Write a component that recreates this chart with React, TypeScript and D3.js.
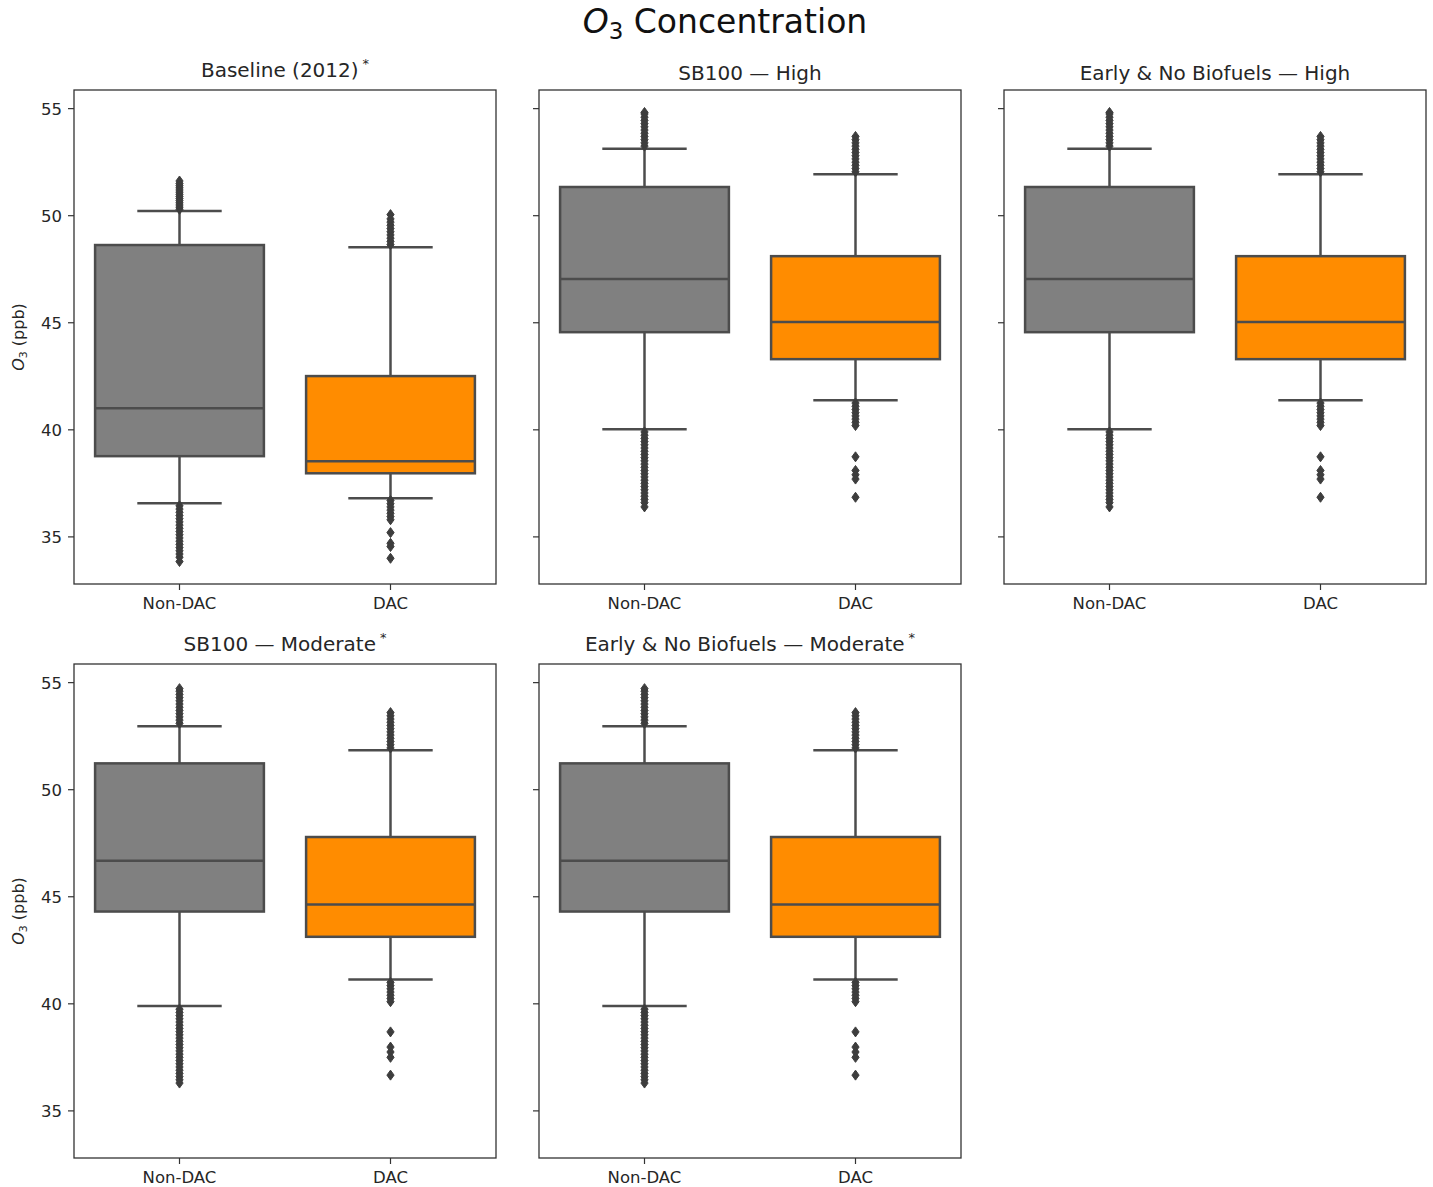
import React from "react";
import * as d3 from "d3";

// ---------- DATA ----------
const groups = ["Non-DAC", "DAC"];
const yTicks = [35, 40, 45, 50, 55];
const yDomain = [32.8, 55.87];

const panelTitles = [
  "Baseline (2012)",
  "SB100 — High",
  "Early & No Biofuels — High",
  "SB100 — Moderate",
  "Early & No Biofuels — Moderate",
];
const panelStars = [true, false, false, true, true];

// stats: [lowWhisker, q1, median, q3, highWhisker]
const baselineNonDacStats = [36.57, 38.77, 41.01, 48.63, 50.22];
const baselineNonDacOut = [
  50.3, 50.4, 50.5, 50.6, 50.7, 50.8, 50.9, 51.0, 51.1, 51.2, 51.3, 51.4, 51.5, 51.62,
  36.45, 36.3, 36.15, 36.0, 35.85, 35.7, 35.55, 35.4, 35.25, 35.1, 34.95, 34.8, 34.65,
  34.5, 34.35, 34.2, 34.05, 33.85,
];
const baselineDacStats = [36.8, 37.97, 38.53, 42.51, 48.53];
const baselineDacOut = [
  48.65, 48.8, 48.95, 49.1, 49.25, 49.4, 49.55, 49.7, 49.85, 50.05,
  36.7, 36.55, 36.4, 36.25, 36.1, 35.95, 35.8, 35.2, 34.7, 34.55, 34.0,
];

const highNonDacStats = [40.03, 44.56, 47.04, 51.34, 53.13];
const highNonDacOut = [
  53.25, 53.4, 53.55, 53.7, 53.85, 54.0, 54.15, 54.3, 54.45, 54.6, 54.75, 54.82,
  39.9, 39.75, 39.6, 39.45, 39.3, 39.15, 39.0, 38.85, 38.7, 38.55, 38.4, 38.25, 38.1,
  37.95, 37.8, 37.65, 37.5, 37.35, 37.2, 37.05, 36.9, 36.75, 36.6, 36.4,
];
const highDacStats = [41.38, 43.3, 45.03, 48.11, 51.94];
const highDacOut = [
  52.05, 52.2, 52.35, 52.5, 52.65, 52.8, 52.95, 53.1, 53.25, 53.4, 53.55, 53.7,
  41.25, 41.1, 40.95, 40.8, 40.65, 40.5, 40.35, 40.2, 38.74, 38.1, 37.9, 37.7, 36.85,
];

const modNonDacStats = [39.9, 44.31, 46.68, 51.23, 52.96];
const modNonDacOut = [
  53.1, 53.25, 53.4, 53.55, 53.7, 53.85, 54.0, 54.15, 54.3, 54.45, 54.6, 54.72,
  39.75, 39.6, 39.45, 39.3, 39.15, 39.0, 38.85, 38.7, 38.55, 38.4, 38.25, 38.1, 37.95,
  37.8, 37.65, 37.5, 37.35, 37.2, 37.05, 36.9, 36.75, 36.6, 36.45, 36.3,
];
const modDacStats = [41.14, 43.13, 44.64, 47.79, 51.84];
const modDacOut = [
  51.95, 52.1, 52.25, 52.4, 52.55, 52.7, 52.85, 53.0, 53.15, 53.3, 53.45, 53.6,
  41.0, 40.85, 40.7, 40.55, 40.4, 40.25, 40.1, 38.69, 37.98, 37.75, 37.5, 36.67,
];

const panelStats = [
  [baselineNonDacStats, baselineDacStats],
  [highNonDacStats, highDacStats],
  [highNonDacStats, highDacStats],
  [modNonDacStats, modDacStats],
  [modNonDacStats, modDacStats],
];
const panelOutliers = [
  [baselineNonDacOut, baselineDacOut],
  [highNonDacOut, highDacOut],
  [highNonDacOut, highDacOut],
  [modNonDacOut, modDacOut],
  [modNonDacOut, modDacOut],
];

const groupColors = ["#808080", "#ff8c00"];

// ---------- LAYOUT ----------
const W = 1433;
const H = 1187;
const colX = [74, 539, 1004];
const rowY = [90, 664];
const PW = 422;
const PH = 494;
const LINE = "#4c4c4c";
const FLIER = "#3d3d3d";
const FONT = "'DejaVu Sans', sans-serif";
const TEXT = "#262626";

function Panel({ idx }: { idx: number }) {
  const col = idx % 3;
  const row = Math.floor(idx / 3);
  const x0 = colX[col];
  const y0 = rowY[row];
  const y = d3.scaleLinear().domain(yDomain).range([y0 + PH, y0]);
  const x = d3.scaleBand().domain(groups).range([x0, x0 + PW]).padding(0);
  const bw = x.bandwidth() * 0.8;
  const capW = bw / 2;
  const stats = panelStats[idx];
  const outs = panelOutliers[idx];
  const showYLabels = col === 0;
  const star = panelStars[idx];
  const titleY = star ? y0 - 13 : y0 - 10;
  const diamond = (cx: number, cy: number) =>
    `M${cx},${cy - 5}L${cx + 3.6},${cy}L${cx},${cy + 5}L${cx - 3.6},${cy}Z`;

  return (
    <g>
      {/* title */}
      <text
        x={x0 + PW / 2}
        y={titleY}
        textAnchor="middle"
        fontFamily={FONT}
        fontSize={20}
        fill={TEXT}
      >
        {panelTitles[idx]}
        {star ? (
          <tspan dx={4} dy={-9} fontSize={13}>
            *
          </tspan>
        ) : null}
      </text>

      {/* boxes */}
      {groups.map((g, i) => {
        const [lo, q1, med, q3, hi] = stats[i];
        const cx = (x(g) as number) + x.bandwidth() / 2;
        return (
          <g key={g}>
            <line x1={cx} x2={cx} y1={y(q3)} y2={y(hi)} stroke={LINE} strokeWidth={2.5} />
            <line x1={cx} x2={cx} y1={y(q1)} y2={y(lo)} stroke={LINE} strokeWidth={2.5} />
            <line x1={cx - capW / 2} x2={cx + capW / 2} y1={y(hi)} y2={y(hi)} stroke={LINE} strokeWidth={2.5} />
            <line x1={cx - capW / 2} x2={cx + capW / 2} y1={y(lo)} y2={y(lo)} stroke={LINE} strokeWidth={2.5} />
            <rect
              x={cx - bw / 2}
              y={y(q3)}
              width={bw}
              height={y(q1) - y(q3)}
              fill={groupColors[i]}
              stroke={LINE}
              strokeWidth={2.5}
            />
            <line x1={cx - bw / 2} x2={cx + bw / 2} y1={y(med)} y2={y(med)} stroke={LINE} strokeWidth={2.5} />
            {outs[i].map((v, k) => (
              <path key={k} d={diamond(cx, y(v))} fill={FLIER} stroke={FLIER} strokeWidth={1} />
            ))}
          </g>
        );
      })}

      {/* frame */}
      <rect x={x0} y={y0} width={PW} height={PH} fill="none" stroke="#333" strokeWidth={1.3} />

      {/* y ticks */}
      {yTicks.map((t) => (
        <g key={t}>
          <line x1={x0 - 6} x2={x0} y1={y(t)} y2={y(t)} stroke="#333" strokeWidth={1.2} />
          {showYLabels ? (
            <text
              x={x0 - 12}
              y={y(t) + 6}
              textAnchor="end"
              fontFamily={FONT}
              fontSize={16.5}
              fill={TEXT}
            >
              {t}
            </text>
          ) : null}
        </g>
      ))}

      {/* x ticks */}
      {groups.map((g) => {
        const cx = (x(g) as number) + x.bandwidth() / 2;
        return (
          <g key={g}>
            <line x1={cx} x2={cx} y1={y0 + PH} y2={y0 + PH + 6} stroke="#333" strokeWidth={1.2} />
            <text
              x={cx}
              y={y0 + PH + 25}
              textAnchor="middle"
              fontFamily={FONT}
              fontSize={16.5}
              fill={TEXT}
            >
              {g}
            </text>
          </g>
        );
      })}

      {/* y label */}
      {showYLabels ? (
        <text
          transform={`translate(24,${y0 + PH / 2}) rotate(-90)`}
          textAnchor="middle"
          fontFamily={FONT}
          fontSize={16}
          fill={TEXT}
        >
          <tspan fontStyle="italic">O</tspan>
          <tspan fontSize={11} dy={3}>3</tspan>
          <tspan dy={-3}> (ppb)</tspan>
        </text>
      ) : null}
    </g>
  );
}

export default function App() {
  return (
    <svg
      width={W}
      height={H}
      style={{ position: "absolute", left: 0, top: 0, background: "#fff" }}
    >
      <rect x={0} y={0} width={W} height={H} fill="#fff" />
      <text x={725} y={33} textAnchor="middle" fontFamily={FONT} fontSize={33} fill="#111">
        <tspan fontStyle="italic">O</tspan>
        <tspan fontSize={23} dy={6}>3</tspan>
        <tspan dy={-6}> Concentration</tspan>
      </text>
      {panelTitles.map((_, i) => (
        <Panel key={i} idx={i} />
      ))}
    </svg>
  );
}
